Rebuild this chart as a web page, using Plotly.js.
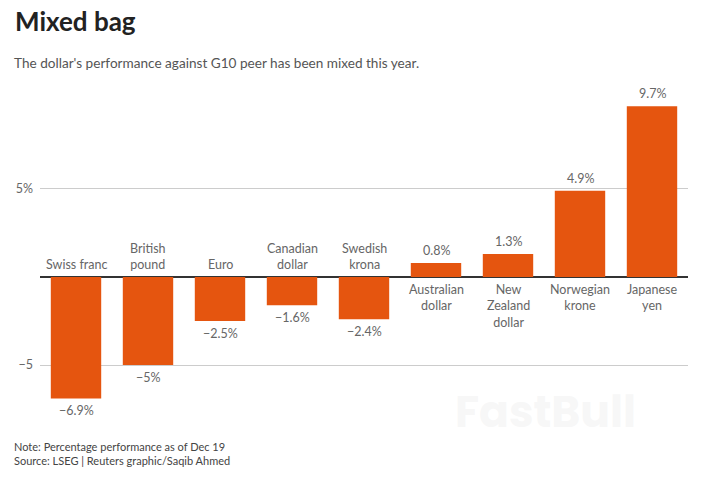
<!DOCTYPE html>
<html>
<head>
<meta charset="utf-8">
<script src="https://cdn.plot.ly/plotly-3.0.1.min.js"></script>
<style>html,body{margin:0;padding:0;background:#fff;}#chart{width:705px;height:478px;}</style>
</head>
<body>
<div id="chart"></div>
<script>
var categories = ["Swiss franc", "British<br>pound", "Euro", "Canadian<br>dollar", "Swedish<br>krona", "Australian<br>dollar", "New<br>Zealand<br>dollar", "Norwegian<br>krone", "Japanese<br>yen"];
var values = [-6.9, -5, -2.5, -1.6, -2.4, 0.8, 1.3, 4.9, 9.7];
var valueLabels = ["−6.9%", "−5%", "−2.5%", "−1.6%", "−2.4%", "0.8%", "1.3%", "4.9%", "9.7%"];
var tickValues = [-5, 5];
var tickLabels = ["−5", "5%"];

var FONT = "Lato, 'Source Sans Pro', 'Open Sans', sans-serif";
var xs = categories.map(function(c, i){ return i; });

var annotations = [];
values.forEach(function(v, i){
  annotations.push({
    x: i, y: v, xref: 'x', yref: 'y', text: valueLabels[i], showarrow: false,
    yanchor: v >= 0 ? 'bottom' : 'top', yshift: v >= 0 ? 3 : -3,
    font: {family: FONT, size: 12.5, color: '#666'}
  });
  annotations.push({
    x: i, y: 0, xref: 'x', yref: 'y', text: categories[i], showarrow: false,
    yanchor: v >= 0 ? 'top' : 'bottom', yshift: v >= 0 ? -3 : 3,
    font: {family: FONT, size: 12.5, color: '#666'}
  });
});
annotations.push({
  xref: 'paper', yref: 'paper', x: -0.043, y: 1.0, xanchor: 'left', yanchor: 'bottom', yshift: 7,
  text: "The dollar's performance against G10 peer has been mixed this year.", showarrow: false,
  font: {family: FONT, size: 13.6, color: '#555'}, align: 'left'
});
annotations.push({
  xref: 'paper', yref: 'paper', x: -0.043, y: 0, xanchor: 'left', yanchor: 'top', yshift: -20,
  text: "Note: Percentage performance as of Dec 19<br>Source: LSEG | Reuters graphic/Saqib Ahmed", showarrow: false,
  font: {family: FONT, size: 11, color: '#444'}, align: 'left'
});
annotations.push({
  xref: 'paper', yref: 'paper', x: 0.78, y: 0.02, xanchor: 'center', yanchor: 'middle',
  text: "<b>FastBull</b>", showarrow: false,
  font: {family: 'Poppins, Inter, sans-serif', size: 44, color: 'rgba(240,240,240,0.55)'}
});

var trace = {
  type: 'bar', x: xs, y: values,
  marker: {color: '#e5550f'},
  hoverinfo: 'none'
};

var layout = {
  width: 705, height: 478,
  margin: {l: 40, r: 17, t: 80, b: 60},
  paper_bgcolor: '#fff', plot_bgcolor: '#fff',
  bargap: 0.3,
  showlegend: false,
  title: {
    text: '<b>Mixed bag</b>', x: 15/705, xanchor: 'left', xref: 'container',
    y: 1 - 22/478, yanchor: 'middle', yref: 'container',
    font: {family: FONT, size: 26, color: '#222'}
  },
  xaxis: {
    range: [-0.5, 8.5], showticklabels: false, showgrid: false, zeroline: false,
    showline: false, ticks: '', fixedrange: true
  },
  yaxis: {
    range: [-8.01, 11.19], tickvals: tickValues, ticktext: tickLabels,
    showgrid: true, gridcolor: '#ccc', gridwidth: 1,
    zeroline: true, zerolinecolor: '#333', zerolinewidth: 1.2,
    ticks: '', ticklabelstandoff: 6,
    tickfont: {family: FONT, size: 12.5, color: '#666'},
    showline: false, fixedrange: true
  },
  annotations: annotations,
  font: {family: FONT}
};

Plotly.newPlot('chart', [trace], layout, {displayModeBar: false, staticPlot: true});
</script>
</body>
</html>
